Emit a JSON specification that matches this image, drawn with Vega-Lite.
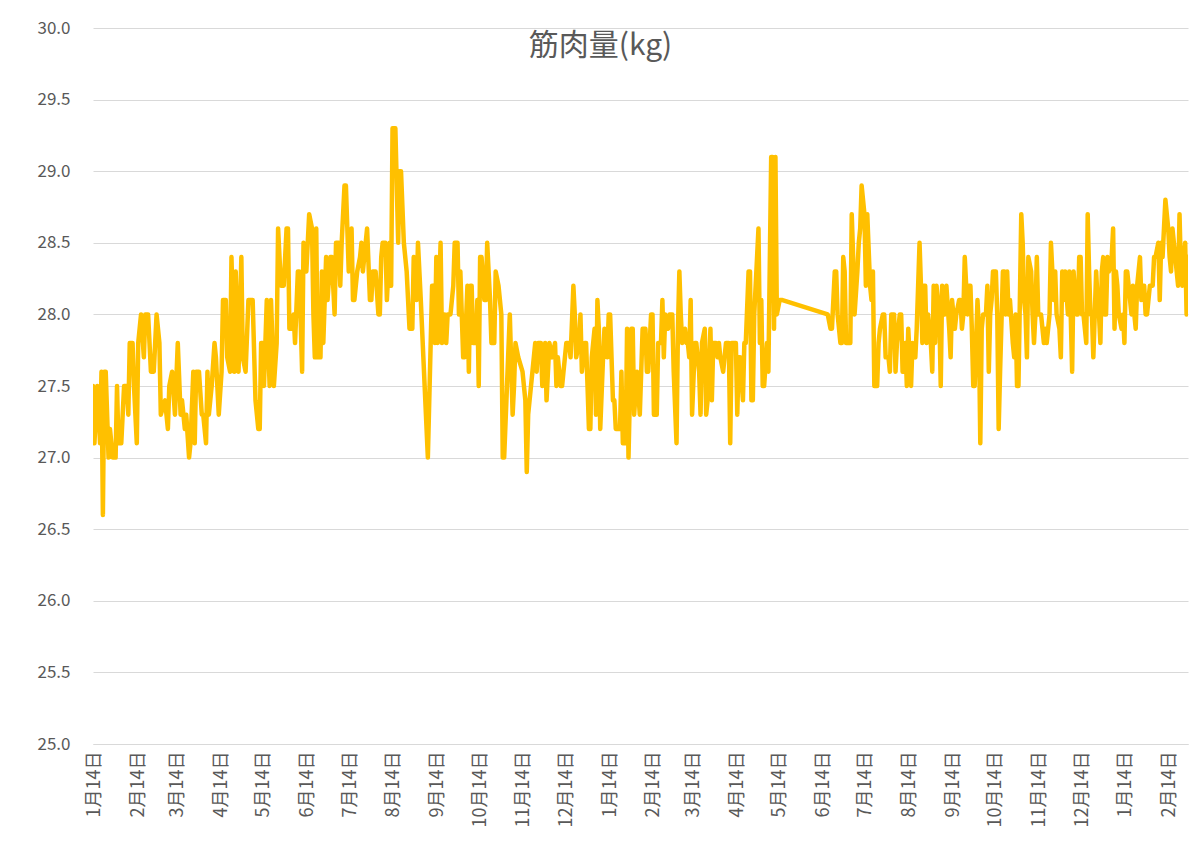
{
  "$schema": "https://vega.github.io/schema/vega-lite/v6.json",
  "width": 1095,
  "height": 716,
  "autosize": "none",
  "padding": {"left": 93, "top": 28, "right": 12, "bottom": 122},
  "background": "white",
  "title": {
    "text": "筋肉量(kg)",
    "font": "Noto Sans CJK JP",
    "fontSize": 30,
    "fontWeight": "normal",
    "color": "#595959",
    "anchor": "middle",
    "frame": "group",
    "dx": -40,
    "offset": -42
  },
  "data": {
    "values": [
      {"date": "2022-01-13", "kg": 27.5}, {"date": "2022-01-14", "kg": 27.1}, {"date": "2022-01-16", "kg": 27.5}, {"date": "2022-01-18", "kg": 27.1},
      {"date": "2022-01-19", "kg": 27.6}, {"date": "2022-01-20", "kg": 26.6}, {"date": "2022-01-21", "kg": 27.6}, {"date": "2022-01-22", "kg": 27.6},
      {"date": "2022-01-24", "kg": 27.0}, {"date": "2022-01-25", "kg": 27.2}, {"date": "2022-01-27", "kg": 27.0}, {"date": "2022-01-29", "kg": 27.0},
      {"date": "2022-01-30", "kg": 27.5}, {"date": "2022-01-31", "kg": 27.1}, {"date": "2022-02-02", "kg": 27.1}, {"date": "2022-02-04", "kg": 27.5},
      {"date": "2022-02-06", "kg": 27.5}, {"date": "2022-02-07", "kg": 27.3}, {"date": "2022-02-08", "kg": 27.8}, {"date": "2022-02-10", "kg": 27.8},
      {"date": "2022-02-11", "kg": 27.5}, {"date": "2022-02-13", "kg": 27.1}, {"date": "2022-02-14", "kg": 27.8}, {"date": "2022-02-16", "kg": 28.0},
      {"date": "2022-02-18", "kg": 27.7}, {"date": "2022-02-19", "kg": 28.0}, {"date": "2022-02-21", "kg": 28.0}, {"date": "2022-02-23", "kg": 27.6},
      {"date": "2022-02-25", "kg": 27.6}, {"date": "2022-02-26", "kg": 27.8}, {"date": "2022-02-27", "kg": 28.0}, {"date": "2022-03-01", "kg": 27.8},
      {"date": "2022-03-02", "kg": 27.3}, {"date": "2022-03-05", "kg": 27.4}, {"date": "2022-03-07", "kg": 27.2}, {"date": "2022-03-08", "kg": 27.5},
      {"date": "2022-03-10", "kg": 27.6}, {"date": "2022-03-12", "kg": 27.3}, {"date": "2022-03-14", "kg": 27.8}, {"date": "2022-03-16", "kg": 27.3},
      {"date": "2022-03-17", "kg": 27.4}, {"date": "2022-03-19", "kg": 27.2}, {"date": "2022-03-20", "kg": 27.3}, {"date": "2022-03-22", "kg": 27.0},
      {"date": "2022-03-23", "kg": 27.1}, {"date": "2022-03-25", "kg": 27.6}, {"date": "2022-03-26", "kg": 27.1}, {"date": "2022-03-27", "kg": 27.6},
      {"date": "2022-03-29", "kg": 27.6}, {"date": "2022-03-31", "kg": 27.3}, {"date": "2022-04-01", "kg": 27.3}, {"date": "2022-04-03", "kg": 27.1},
      {"date": "2022-04-04", "kg": 27.6}, {"date": "2022-04-05", "kg": 27.3}, {"date": "2022-04-07", "kg": 27.5}, {"date": "2022-04-09", "kg": 27.8},
      {"date": "2022-04-10", "kg": 27.7}, {"date": "2022-04-12", "kg": 27.3}, {"date": "2022-04-14", "kg": 27.6}, {"date": "2022-04-15", "kg": 28.1},
      {"date": "2022-04-17", "kg": 28.1}, {"date": "2022-04-18", "kg": 27.7}, {"date": "2022-04-20", "kg": 27.6}, {"date": "2022-04-21", "kg": 28.4},
      {"date": "2022-04-23", "kg": 27.6}, {"date": "2022-04-24", "kg": 28.3}, {"date": "2022-04-26", "kg": 27.6}, {"date": "2022-04-28", "kg": 28.4},
      {"date": "2022-04-29", "kg": 27.7}, {"date": "2022-05-01", "kg": 27.6}, {"date": "2022-05-03", "kg": 28.1}, {"date": "2022-05-05", "kg": 28.1},
      {"date": "2022-05-06", "kg": 28.1}, {"date": "2022-05-08", "kg": 27.4}, {"date": "2022-05-10", "kg": 27.2}, {"date": "2022-05-11", "kg": 27.2},
      {"date": "2022-05-12", "kg": 27.8}, {"date": "2022-05-13", "kg": 27.8}, {"date": "2022-05-14", "kg": 27.5}, {"date": "2022-05-16", "kg": 28.1},
      {"date": "2022-05-18", "kg": 27.5}, {"date": "2022-05-19", "kg": 28.1}, {"date": "2022-05-21", "kg": 27.5}, {"date": "2022-05-23", "kg": 27.8},
      {"date": "2022-05-24", "kg": 28.6}, {"date": "2022-05-26", "kg": 28.2}, {"date": "2022-05-28", "kg": 28.2}, {"date": "2022-05-30", "kg": 28.6},
      {"date": "2022-05-31", "kg": 28.6}, {"date": "2022-06-01", "kg": 27.9}, {"date": "2022-06-03", "kg": 27.9}, {"date": "2022-06-04", "kg": 28.0},
      {"date": "2022-06-05", "kg": 27.8}, {"date": "2022-06-07", "kg": 28.3}, {"date": "2022-06-08", "kg": 28.3}, {"date": "2022-06-10", "kg": 27.6},
      {"date": "2022-06-11", "kg": 28.5}, {"date": "2022-06-13", "kg": 28.3}, {"date": "2022-06-15", "kg": 28.7}, {"date": "2022-06-17", "kg": 28.6},
      {"date": "2022-06-18", "kg": 28.0}, {"date": "2022-06-19", "kg": 27.7}, {"date": "2022-06-20", "kg": 28.6}, {"date": "2022-06-21", "kg": 27.7},
      {"date": "2022-06-23", "kg": 27.7}, {"date": "2022-06-24", "kg": 28.3}, {"date": "2022-06-25", "kg": 27.8}, {"date": "2022-06-27", "kg": 28.4},
      {"date": "2022-06-28", "kg": 28.1}, {"date": "2022-06-30", "kg": 28.4}, {"date": "2022-07-01", "kg": 28.4}, {"date": "2022-07-03", "kg": 28.0},
      {"date": "2022-07-04", "kg": 28.5}, {"date": "2022-07-06", "kg": 28.5}, {"date": "2022-07-07", "kg": 28.2}, {"date": "2022-07-08", "kg": 28.5},
      {"date": "2022-07-10", "kg": 28.9}, {"date": "2022-07-11", "kg": 28.9}, {"date": "2022-07-13", "kg": 28.3}, {"date": "2022-07-15", "kg": 28.6},
      {"date": "2022-07-16", "kg": 28.1}, {"date": "2022-07-17", "kg": 28.1}, {"date": "2022-07-19", "kg": 28.3}, {"date": "2022-07-21", "kg": 28.4},
      {"date": "2022-07-22", "kg": 28.5}, {"date": "2022-07-23", "kg": 28.3}, {"date": "2022-07-25", "kg": 28.5}, {"date": "2022-07-26", "kg": 28.6},
      {"date": "2022-07-28", "kg": 28.1}, {"date": "2022-07-29", "kg": 28.1}, {"date": "2022-07-30", "kg": 28.3}, {"date": "2022-08-01", "kg": 28.3},
      {"date": "2022-08-03", "kg": 28.0}, {"date": "2022-08-04", "kg": 28.0}, {"date": "2022-08-05", "kg": 28.4}, {"date": "2022-08-06", "kg": 28.5},
      {"date": "2022-08-08", "kg": 28.5}, {"date": "2022-08-09", "kg": 28.1}, {"date": "2022-08-11", "kg": 28.5}, {"date": "2022-08-12", "kg": 28.2},
      {"date": "2022-08-13", "kg": 29.3}, {"date": "2022-08-15", "kg": 29.3}, {"date": "2022-08-17", "kg": 28.5}, {"date": "2022-08-18", "kg": 29.0},
      {"date": "2022-08-19", "kg": 29.0}, {"date": "2022-08-21", "kg": 28.5}, {"date": "2022-08-23", "kg": 28.3}, {"date": "2022-08-25", "kg": 27.9},
      {"date": "2022-08-27", "kg": 27.9}, {"date": "2022-08-28", "kg": 28.4}, {"date": "2022-08-30", "kg": 28.1}, {"date": "2022-08-31", "kg": 28.5},
      {"date": "2022-09-02", "kg": 28.1}, {"date": "2022-09-07", "kg": 27.0}, {"date": "2022-09-10", "kg": 28.2}, {"date": "2022-09-11", "kg": 28.2},
      {"date": "2022-09-12", "kg": 27.8}, {"date": "2022-09-13", "kg": 28.4}, {"date": "2022-09-14", "kg": 27.8}, {"date": "2022-09-16", "kg": 28.5},
      {"date": "2022-09-17", "kg": 27.8}, {"date": "2022-09-19", "kg": 28.0}, {"date": "2022-09-20", "kg": 27.8}, {"date": "2022-09-21", "kg": 28.0},
      {"date": "2022-09-23", "kg": 28.0}, {"date": "2022-09-25", "kg": 28.2}, {"date": "2022-09-26", "kg": 28.5}, {"date": "2022-09-28", "kg": 28.5},
      {"date": "2022-09-29", "kg": 28.0}, {"date": "2022-09-30", "kg": 28.3}, {"date": "2022-10-02", "kg": 27.7}, {"date": "2022-10-03", "kg": 27.7},
      {"date": "2022-10-05", "kg": 28.2}, {"date": "2022-10-06", "kg": 27.6}, {"date": "2022-10-07", "kg": 28.2}, {"date": "2022-10-08", "kg": 28.2},
      {"date": "2022-10-09", "kg": 27.8}, {"date": "2022-10-11", "kg": 27.8}, {"date": "2022-10-12", "kg": 28.1}, {"date": "2022-10-13", "kg": 27.5},
      {"date": "2022-10-14", "kg": 28.4}, {"date": "2022-10-15", "kg": 28.4}, {"date": "2022-10-17", "kg": 28.1}, {"date": "2022-10-18", "kg": 28.1},
      {"date": "2022-10-19", "kg": 28.5}, {"date": "2022-10-21", "kg": 28.1}, {"date": "2022-10-22", "kg": 27.8}, {"date": "2022-10-24", "kg": 27.8},
      {"date": "2022-10-25", "kg": 28.3}, {"date": "2022-10-27", "kg": 28.2}, {"date": "2022-10-28", "kg": 28.1}, {"date": "2022-10-29", "kg": 28.0},
      {"date": "2022-10-30", "kg": 27.0}, {"date": "2022-10-31", "kg": 27.0}, {"date": "2022-11-02", "kg": 27.5}, {"date": "2022-11-04", "kg": 28.0},
      {"date": "2022-11-06", "kg": 27.3}, {"date": "2022-11-07", "kg": 27.5}, {"date": "2022-11-08", "kg": 27.8}, {"date": "2022-11-10", "kg": 27.7},
      {"date": "2022-11-13", "kg": 27.6}, {"date": "2022-11-15", "kg": 27.4}, {"date": "2022-11-16", "kg": 26.9}, {"date": "2022-11-17", "kg": 27.3},
      {"date": "2022-11-20", "kg": 27.6}, {"date": "2022-11-22", "kg": 27.8}, {"date": "2022-11-23", "kg": 27.6}, {"date": "2022-11-24", "kg": 27.8},
      {"date": "2022-11-26", "kg": 27.8}, {"date": "2022-11-27", "kg": 27.5}, {"date": "2022-11-29", "kg": 27.8}, {"date": "2022-11-30", "kg": 27.4},
      {"date": "2022-12-02", "kg": 27.8}, {"date": "2022-12-04", "kg": 27.7}, {"date": "2022-12-06", "kg": 27.8}, {"date": "2022-12-07", "kg": 27.5},
      {"date": "2022-12-08", "kg": 27.7}, {"date": "2022-12-10", "kg": 27.5}, {"date": "2022-12-11", "kg": 27.5}, {"date": "2022-12-13", "kg": 27.7},
      {"date": "2022-12-14", "kg": 27.8}, {"date": "2022-12-16", "kg": 27.8}, {"date": "2022-12-17", "kg": 27.7}, {"date": "2022-12-19", "kg": 28.2},
      {"date": "2022-12-20", "kg": 28.0}, {"date": "2022-12-21", "kg": 27.7}, {"date": "2022-12-23", "kg": 27.8}, {"date": "2022-12-24", "kg": 28.0},
      {"date": "2022-12-25", "kg": 27.6}, {"date": "2022-12-27", "kg": 27.8}, {"date": "2022-12-28", "kg": 27.8}, {"date": "2022-12-29", "kg": 27.5},
      {"date": "2022-12-30", "kg": 27.2}, {"date": "2022-12-31", "kg": 27.2}, {"date": "2023-01-01", "kg": 27.7}, {"date": "2023-01-03", "kg": 27.9},
      {"date": "2023-01-04", "kg": 27.3}, {"date": "2023-01-05", "kg": 28.1}, {"date": "2023-01-06", "kg": 27.9}, {"date": "2023-01-07", "kg": 27.2},
      {"date": "2023-01-09", "kg": 27.7}, {"date": "2023-01-10", "kg": 27.9}, {"date": "2023-01-12", "kg": 27.7}, {"date": "2023-01-13", "kg": 28.0},
      {"date": "2023-01-14", "kg": 28.0}, {"date": "2023-01-16", "kg": 27.4}, {"date": "2023-01-17", "kg": 27.4}, {"date": "2023-01-18", "kg": 27.2},
      {"date": "2023-01-19", "kg": 27.2}, {"date": "2023-01-21", "kg": 27.2}, {"date": "2023-01-22", "kg": 27.6}, {"date": "2023-01-23", "kg": 27.1},
      {"date": "2023-01-25", "kg": 27.1}, {"date": "2023-01-26", "kg": 27.9}, {"date": "2023-01-27", "kg": 27.0}, {"date": "2023-01-29", "kg": 27.9},
      {"date": "2023-01-30", "kg": 27.9}, {"date": "2023-01-31", "kg": 27.3}, {"date": "2023-02-02", "kg": 27.6}, {"date": "2023-02-04", "kg": 27.3},
      {"date": "2023-02-06", "kg": 27.9}, {"date": "2023-02-08", "kg": 27.9}, {"date": "2023-02-09", "kg": 27.6}, {"date": "2023-02-10", "kg": 27.6},
      {"date": "2023-02-12", "kg": 28.0}, {"date": "2023-02-13", "kg": 28.0}, {"date": "2023-02-14", "kg": 27.3}, {"date": "2023-02-16", "kg": 27.3},
      {"date": "2023-02-17", "kg": 27.8}, {"date": "2023-02-19", "kg": 27.8}, {"date": "2023-02-20", "kg": 28.1}, {"date": "2023-02-21", "kg": 27.7},
      {"date": "2023-02-22", "kg": 28.0}, {"date": "2023-02-24", "kg": 27.9}, {"date": "2023-02-25", "kg": 28.0}, {"date": "2023-02-27", "kg": 28.0},
      {"date": "2023-02-28", "kg": 27.6}, {"date": "2023-03-02", "kg": 27.1}, {"date": "2023-03-03", "kg": 27.9}, {"date": "2023-03-04", "kg": 28.3},
      {"date": "2023-03-05", "kg": 28.0}, {"date": "2023-03-06", "kg": 27.8}, {"date": "2023-03-08", "kg": 27.9}, {"date": "2023-03-09", "kg": 27.8},
      {"date": "2023-03-10", "kg": 27.8}, {"date": "2023-03-11", "kg": 27.7}, {"date": "2023-03-12", "kg": 28.1}, {"date": "2023-03-13", "kg": 27.3},
      {"date": "2023-03-15", "kg": 27.8}, {"date": "2023-03-16", "kg": 27.8}, {"date": "2023-03-18", "kg": 27.6}, {"date": "2023-03-19", "kg": 27.3},
      {"date": "2023-03-20", "kg": 27.8}, {"date": "2023-03-22", "kg": 27.9}, {"date": "2023-03-23", "kg": 27.3}, {"date": "2023-03-24", "kg": 27.4},
      {"date": "2023-03-26", "kg": 27.9}, {"date": "2023-03-27", "kg": 27.4}, {"date": "2023-03-28", "kg": 27.8}, {"date": "2023-03-30", "kg": 27.8},
      {"date": "2023-03-31", "kg": 27.7}, {"date": "2023-04-01", "kg": 27.8}, {"date": "2023-04-02", "kg": 27.7}, {"date": "2023-04-04", "kg": 27.6},
      {"date": "2023-04-05", "kg": 27.7}, {"date": "2023-04-06", "kg": 27.8}, {"date": "2023-04-08", "kg": 27.8}, {"date": "2023-04-09", "kg": 27.1},
      {"date": "2023-04-10", "kg": 27.8}, {"date": "2023-04-12", "kg": 27.8}, {"date": "2023-04-13", "kg": 27.8}, {"date": "2023-04-14", "kg": 27.3},
      {"date": "2023-04-15", "kg": 27.7}, {"date": "2023-04-16", "kg": 27.7}, {"date": "2023-04-18", "kg": 27.4}, {"date": "2023-04-19", "kg": 27.8},
      {"date": "2023-04-20", "kg": 27.8}, {"date": "2023-04-22", "kg": 28.3}, {"date": "2023-04-23", "kg": 28.3}, {"date": "2023-04-24", "kg": 27.4},
      {"date": "2023-04-25", "kg": 27.4}, {"date": "2023-04-26", "kg": 28.0}, {"date": "2023-04-27", "kg": 28.2}, {"date": "2023-04-29", "kg": 28.6},
      {"date": "2023-04-30", "kg": 27.8}, {"date": "2023-05-01", "kg": 28.1}, {"date": "2023-05-02", "kg": 27.5}, {"date": "2023-05-03", "kg": 27.5},
      {"date": "2023-05-05", "kg": 27.8}, {"date": "2023-05-06", "kg": 27.6}, {"date": "2023-05-08", "kg": 29.1}, {"date": "2023-05-09", "kg": 29.1},
      {"date": "2023-05-10", "kg": 27.9}, {"date": "2023-05-11", "kg": 29.1}, {"date": "2023-05-12", "kg": 28.0}, {"date": "2023-05-14", "kg": 28.1},
      {"date": "2023-05-16", "kg": 28.1}, {"date": "2023-06-17", "kg": 28.0}, {"date": "2023-06-19", "kg": 27.9}, {"date": "2023-06-20", "kg": 27.9},
      {"date": "2023-06-22", "kg": 28.3}, {"date": "2023-06-23", "kg": 28.3}, {"date": "2023-06-24", "kg": 28.0}, {"date": "2023-06-26", "kg": 27.8},
      {"date": "2023-06-27", "kg": 27.8}, {"date": "2023-06-28", "kg": 28.4}, {"date": "2023-06-29", "kg": 28.3}, {"date": "2023-06-30", "kg": 27.8},
      {"date": "2023-07-02", "kg": 27.8}, {"date": "2023-07-03", "kg": 27.8}, {"date": "2023-07-04", "kg": 28.7}, {"date": "2023-07-05", "kg": 28.4},
      {"date": "2023-07-06", "kg": 28.0}, {"date": "2023-07-08", "kg": 28.3}, {"date": "2023-07-09", "kg": 28.5}, {"date": "2023-07-10", "kg": 28.6},
      {"date": "2023-07-11", "kg": 28.9}, {"date": "2023-07-13", "kg": 28.7}, {"date": "2023-07-14", "kg": 28.2}, {"date": "2023-07-15", "kg": 28.7},
      {"date": "2023-07-17", "kg": 28.2}, {"date": "2023-07-18", "kg": 28.1}, {"date": "2023-07-19", "kg": 28.3}, {"date": "2023-07-20", "kg": 27.5},
      {"date": "2023-07-22", "kg": 27.5}, {"date": "2023-07-23", "kg": 27.8}, {"date": "2023-07-24", "kg": 27.9}, {"date": "2023-07-26", "kg": 28.0},
      {"date": "2023-07-27", "kg": 28.0}, {"date": "2023-07-28", "kg": 27.7}, {"date": "2023-07-30", "kg": 27.7}, {"date": "2023-07-31", "kg": 27.6},
      {"date": "2023-08-01", "kg": 28.0}, {"date": "2023-08-03", "kg": 28.0}, {"date": "2023-08-04", "kg": 27.6}, {"date": "2023-08-05", "kg": 27.8},
      {"date": "2023-08-07", "kg": 28.0}, {"date": "2023-08-08", "kg": 28.0}, {"date": "2023-08-09", "kg": 27.6}, {"date": "2023-08-10", "kg": 27.7},
      {"date": "2023-08-11", "kg": 27.8}, {"date": "2023-08-12", "kg": 27.5}, {"date": "2023-08-13", "kg": 27.9}, {"date": "2023-08-15", "kg": 27.5},
      {"date": "2023-08-16", "kg": 27.8}, {"date": "2023-08-18", "kg": 27.7}, {"date": "2023-08-19", "kg": 27.9}, {"date": "2023-08-20", "kg": 28.2},
      {"date": "2023-08-21", "kg": 28.5}, {"date": "2023-08-22", "kg": 28.2}, {"date": "2023-08-23", "kg": 27.8}, {"date": "2023-08-24", "kg": 28.2},
      {"date": "2023-08-25", "kg": 28.2}, {"date": "2023-08-26", "kg": 27.8}, {"date": "2023-08-27", "kg": 28.0}, {"date": "2023-08-29", "kg": 27.8},
      {"date": "2023-08-30", "kg": 27.6}, {"date": "2023-08-31", "kg": 28.2}, {"date": "2023-09-01", "kg": 27.8}, {"date": "2023-09-02", "kg": 28.2},
      {"date": "2023-09-04", "kg": 28.0}, {"date": "2023-09-05", "kg": 27.5}, {"date": "2023-09-06", "kg": 28.2}, {"date": "2023-09-07", "kg": 28.0},
      {"date": "2023-09-08", "kg": 28.0}, {"date": "2023-09-09", "kg": 28.2}, {"date": "2023-09-11", "kg": 27.9}, {"date": "2023-09-12", "kg": 27.7},
      {"date": "2023-09-13", "kg": 28.1}, {"date": "2023-09-14", "kg": 28.0}, {"date": "2023-09-15", "kg": 27.9}, {"date": "2023-09-16", "kg": 28.0},
      {"date": "2023-09-18", "kg": 28.1}, {"date": "2023-09-19", "kg": 28.1}, {"date": "2023-09-20", "kg": 27.9}, {"date": "2023-09-21", "kg": 28.0},
      {"date": "2023-09-22", "kg": 28.4}, {"date": "2023-09-24", "kg": 28.0}, {"date": "2023-09-25", "kg": 28.2}, {"date": "2023-09-26", "kg": 28.2},
      {"date": "2023-09-27", "kg": 27.9}, {"date": "2023-09-28", "kg": 27.5}, {"date": "2023-09-29", "kg": 27.5}, {"date": "2023-10-01", "kg": 28.1},
      {"date": "2023-10-02", "kg": 27.9}, {"date": "2023-10-03", "kg": 27.1}, {"date": "2023-10-04", "kg": 27.9}, {"date": "2023-10-05", "kg": 28.0},
      {"date": "2023-10-07", "kg": 28.0}, {"date": "2023-10-08", "kg": 28.2}, {"date": "2023-10-09", "kg": 27.6}, {"date": "2023-10-10", "kg": 28.0},
      {"date": "2023-10-11", "kg": 28.1}, {"date": "2023-10-12", "kg": 28.3}, {"date": "2023-10-14", "kg": 28.3}, {"date": "2023-10-15", "kg": 28.0},
      {"date": "2023-10-16", "kg": 27.2}, {"date": "2023-10-17", "kg": 27.6}, {"date": "2023-10-19", "kg": 28.3}, {"date": "2023-10-20", "kg": 28.3},
      {"date": "2023-10-21", "kg": 28.0}, {"date": "2023-10-22", "kg": 28.3}, {"date": "2023-10-23", "kg": 28.0}, {"date": "2023-10-24", "kg": 28.1},
      {"date": "2023-10-26", "kg": 27.8}, {"date": "2023-10-27", "kg": 27.7}, {"date": "2023-10-28", "kg": 28.0}, {"date": "2023-10-29", "kg": 27.5},
      {"date": "2023-10-30", "kg": 27.5}, {"date": "2023-11-01", "kg": 28.7}, {"date": "2023-11-02", "kg": 28.5}, {"date": "2023-11-03", "kg": 28.1},
      {"date": "2023-11-04", "kg": 28.0}, {"date": "2023-11-05", "kg": 27.7}, {"date": "2023-11-06", "kg": 28.4}, {"date": "2023-11-08", "kg": 28.3},
      {"date": "2023-11-09", "kg": 28.0}, {"date": "2023-11-10", "kg": 27.8}, {"date": "2023-11-11", "kg": 28.0}, {"date": "2023-11-12", "kg": 28.4},
      {"date": "2023-11-13", "kg": 28.0}, {"date": "2023-11-15", "kg": 28.0}, {"date": "2023-11-16", "kg": 27.9}, {"date": "2023-11-17", "kg": 27.8},
      {"date": "2023-11-18", "kg": 27.9}, {"date": "2023-11-19", "kg": 27.8}, {"date": "2023-11-21", "kg": 28.0}, {"date": "2023-11-22", "kg": 28.5},
      {"date": "2023-11-23", "kg": 28.3}, {"date": "2023-11-24", "kg": 28.1}, {"date": "2023-11-25", "kg": 28.3}, {"date": "2023-11-26", "kg": 28.0},
      {"date": "2023-11-28", "kg": 27.9}, {"date": "2023-11-29", "kg": 27.7}, {"date": "2023-11-30", "kg": 28.3}, {"date": "2023-12-01", "kg": 28.1},
      {"date": "2023-12-02", "kg": 28.3}, {"date": "2023-12-04", "kg": 28.0}, {"date": "2023-12-05", "kg": 28.3}, {"date": "2023-12-06", "kg": 28.0},
      {"date": "2023-12-07", "kg": 27.6}, {"date": "2023-12-08", "kg": 28.3}, {"date": "2023-12-10", "kg": 28.0}, {"date": "2023-12-11", "kg": 28.0},
      {"date": "2023-12-12", "kg": 28.4}, {"date": "2023-12-13", "kg": 28.4}, {"date": "2023-12-14", "kg": 28.0}, {"date": "2023-12-15", "kg": 28.0},
      {"date": "2023-12-17", "kg": 27.8}, {"date": "2023-12-18", "kg": 28.7}, {"date": "2023-12-19", "kg": 28.3}, {"date": "2023-12-20", "kg": 28.0},
      {"date": "2023-12-21", "kg": 28.0}, {"date": "2023-12-22", "kg": 27.7}, {"date": "2023-12-24", "kg": 28.3}, {"date": "2023-12-25", "kg": 28.1},
      {"date": "2023-12-26", "kg": 28.0}, {"date": "2023-12-27", "kg": 27.8}, {"date": "2023-12-28", "kg": 28.3}, {"date": "2023-12-29", "kg": 28.4},
      {"date": "2023-12-30", "kg": 28.0}, {"date": "2023-12-31", "kg": 28.0}, {"date": "2024-01-01", "kg": 28.4}, {"date": "2024-01-02", "kg": 28.3},
      {"date": "2024-01-04", "kg": 28.4}, {"date": "2024-01-05", "kg": 28.6}, {"date": "2024-01-06", "kg": 27.9}, {"date": "2024-01-07", "kg": 28.3},
      {"date": "2024-01-08", "kg": 28.2}, {"date": "2024-01-09", "kg": 28.0}, {"date": "2024-01-11", "kg": 27.9}, {"date": "2024-01-12", "kg": 28.0},
      {"date": "2024-01-13", "kg": 27.8}, {"date": "2024-01-14", "kg": 28.3}, {"date": "2024-01-15", "kg": 28.3}, {"date": "2024-01-16", "kg": 28.2},
      {"date": "2024-01-18", "kg": 28.0}, {"date": "2024-01-19", "kg": 28.2}, {"date": "2024-01-20", "kg": 28.0}, {"date": "2024-01-21", "kg": 27.9},
      {"date": "2024-01-22", "kg": 28.2}, {"date": "2024-01-24", "kg": 28.4}, {"date": "2024-01-25", "kg": 28.1}, {"date": "2024-01-26", "kg": 28.2},
      {"date": "2024-01-27", "kg": 28.2}, {"date": "2024-01-28", "kg": 28.0}, {"date": "2024-01-29", "kg": 28.0}, {"date": "2024-01-31", "kg": 28.2},
      {"date": "2024-02-01", "kg": 28.2}, {"date": "2024-02-02", "kg": 28.2}, {"date": "2024-02-03", "kg": 28.4}, {"date": "2024-02-04", "kg": 28.4},
      {"date": "2024-02-06", "kg": 28.5}, {"date": "2024-02-07", "kg": 28.1}, {"date": "2024-02-08", "kg": 28.5}, {"date": "2024-02-09", "kg": 28.4},
      {"date": "2024-02-10", "kg": 28.6}, {"date": "2024-02-11", "kg": 28.8}, {"date": "2024-02-13", "kg": 28.6}, {"date": "2024-02-14", "kg": 28.4},
      {"date": "2024-02-15", "kg": 28.3}, {"date": "2024-02-16", "kg": 28.6}, {"date": "2024-02-17", "kg": 28.5}, {"date": "2024-02-19", "kg": 28.3},
      {"date": "2024-02-20", "kg": 28.2}, {"date": "2024-02-21", "kg": 28.7}, {"date": "2024-02-22", "kg": 28.3}, {"date": "2024-02-23", "kg": 28.2},
      {"date": "2024-02-24", "kg": 28.4}, {"date": "2024-02-25", "kg": 28.5}, {"date": "2024-02-26", "kg": 28.0}, {"date": "2024-02-27", "kg": 28.4}
    ]
  },
  "mark": {
    "type": "line",
    "color": "#FFC000",
    "strokeWidth": 4.5,
    "strokeJoin": "round",
    "strokeCap": "round",
    "clip": true
  },
  "encoding": {
    "x": {
      "field": "date",
      "type": "temporal",
      "scale": {
        "type": "utc",
        "nice": false,
        "domain": [
          {"year": 2022, "month": 1, "date": 13, "utc": true},
          {"year": 2024, "month": 2, "date": 27, "utc": true}
        ]
      },
      "axis": {
        "title": null,
        "grid": false,
        "ticks": false,
        "domainColor": "#d9d9d9",
        "domainWidth": 1,
        "labelAngle": 270,
        "labelPadding": 7,
        "labelFont": "Noto Sans CJK JP",
        "labelFontSize": 18,
        "labelColor": "#595959",
        "labelOverlap": false,
        "labelExpr": "utcFormat(datum.value, '%-m月%-d日')",
        "values": [
          {"year": 2022, "month": 1, "date": 14, "utc": true},
          {"year": 2022, "month": 2, "date": 14, "utc": true},
          {"year": 2022, "month": 3, "date": 14, "utc": true},
          {"year": 2022, "month": 4, "date": 14, "utc": true},
          {"year": 2022, "month": 5, "date": 14, "utc": true},
          {"year": 2022, "month": 6, "date": 14, "utc": true},
          {"year": 2022, "month": 7, "date": 14, "utc": true},
          {"year": 2022, "month": 8, "date": 14, "utc": true},
          {"year": 2022, "month": 9, "date": 14, "utc": true},
          {"year": 2022, "month": 10, "date": 14, "utc": true},
          {"year": 2022, "month": 11, "date": 14, "utc": true},
          {"year": 2022, "month": 12, "date": 14, "utc": true},
          {"year": 2023, "month": 1, "date": 14, "utc": true},
          {"year": 2023, "month": 2, "date": 14, "utc": true},
          {"year": 2023, "month": 3, "date": 14, "utc": true},
          {"year": 2023, "month": 4, "date": 14, "utc": true},
          {"year": 2023, "month": 5, "date": 14, "utc": true},
          {"year": 2023, "month": 6, "date": 14, "utc": true},
          {"year": 2023, "month": 7, "date": 14, "utc": true},
          {"year": 2023, "month": 8, "date": 14, "utc": true},
          {"year": 2023, "month": 9, "date": 14, "utc": true},
          {"year": 2023, "month": 10, "date": 14, "utc": true},
          {"year": 2023, "month": 11, "date": 14, "utc": true},
          {"year": 2023, "month": 12, "date": 14, "utc": true},
          {"year": 2024, "month": 1, "date": 14, "utc": true},
          {"year": 2024, "month": 2, "date": 14, "utc": true}
        ]
      }
    },
    "y": {
      "field": "kg",
      "type": "quantitative",
      "scale": {"domain": [25, 30], "nice": false, "zero": false},
      "axis": {
        "title": null,
        "values": [25, 25.5, 26, 26.5, 27, 27.5, 28, 28.5, 29, 29.5, 30],
        "format": ".1f",
        "domain": false,
        "ticks": false,
        "gridColor": "#d9d9d9",
        "gridWidth": 1,
        "labelPadding": 23,
        "labelFont": "Noto Sans CJK JP",
        "labelFontSize": 17,
        "labelColor": "#595959"
      }
    }
  },
  "config": {
    "view": {"stroke": null}
  }
}
